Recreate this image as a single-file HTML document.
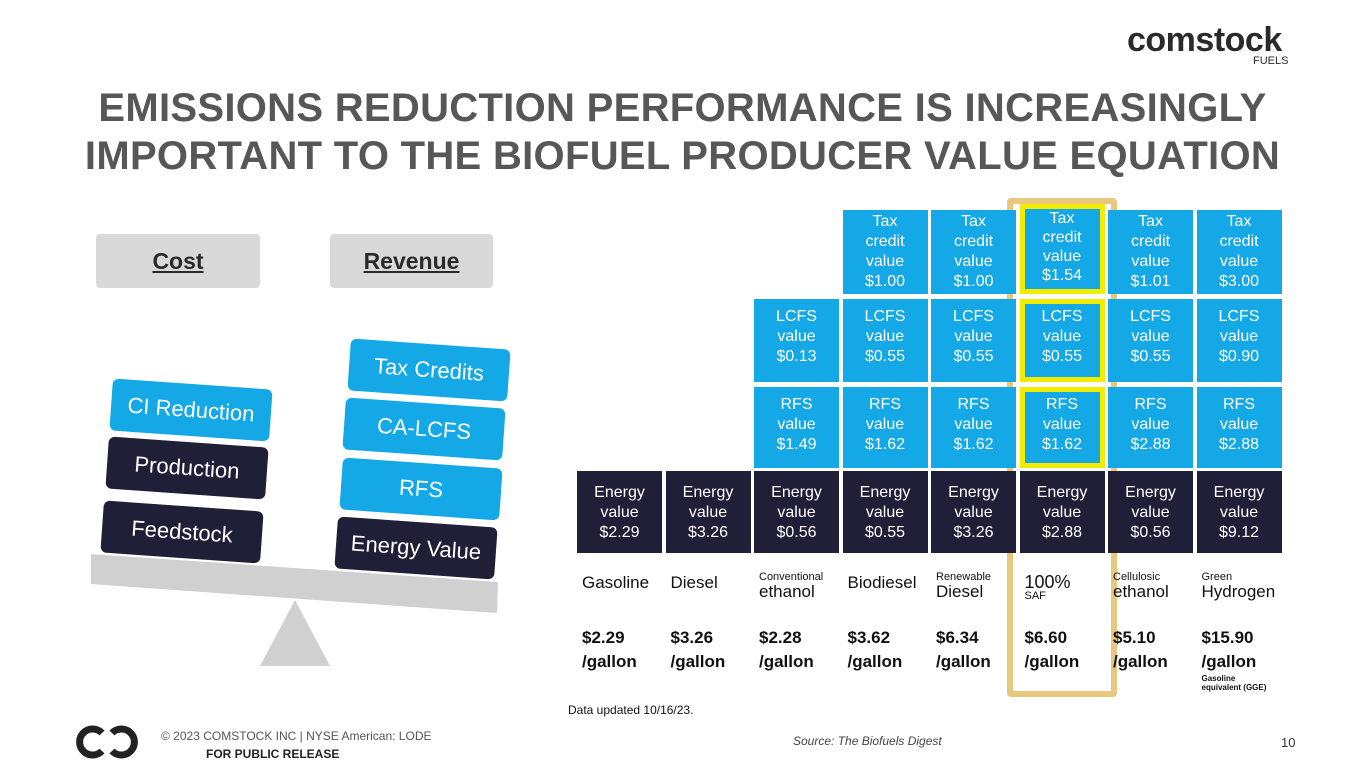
<!DOCTYPE html>
<html><head><meta charset="utf-8"><style>
body{margin:0;width:1365px;height:768px;overflow:hidden;background:#fff;font-family:"Liberation Sans",sans-serif;position:relative}
.abs{position:absolute}
.title{left:0;width:1365px;top:84px;text-align:center;color:#575757;font-weight:bold;font-size:40px;line-height:48px;letter-spacing:0.3px}
.btn{top:234px;height:54px;background:#d9d9d9;border-radius:4px;color:#2a2a2a;font-weight:bold;font-size:23px;text-align:center;line-height:54px;text-decoration:underline}
.blk{width:160px;height:52px;border-radius:6px;color:#fff;font-size:22px;text-align:center;line-height:52px;transform:rotate(4deg)}
.cell{position:absolute;color:#fff;font-size:16px;line-height:20px;text-align:center;box-sizing:border-box;padding-top:2px}
.lab{position:absolute;font-family:"Liberation Sans",sans-serif;color:#111}
</style></head><body>
<div class="abs" style="left:1127px;top:22px;font-size:34px;font-weight:bold;color:#2a2a2a;letter-spacing:-0.5px;line-height:36px">comstock</div>
<div class="abs" style="left:1253px;top:55px;font-size:11px;color:#2a2a2a">FUELS</div>
<div class="abs title">EMISSIONS REDUCTION PERFORMANCE IS INCREASINGLY<br>IMPORTANT TO THE BIOFUEL PRODUCER VALUE EQUATION</div>
<div class="abs btn" style="left:96px;width:164px">Cost</div>
<div class="abs btn" style="left:330px;width:163px">Revenue</div>
<svg class="abs" style="left:0;top:0" width="1365" height="768">
<polygon points="91,554 498,582 497,613 91,584" fill="#d0d0d0"/>
<polygon points="295,600 330,666 260,666" fill="#d0d0d0"/>
</svg>
<div class="abs blk" style="left:102px;top:506px;background:#201f38">Feedstock</div>
<div class="abs blk" style="left:107px;top:442px;background:#201f38">Production</div>
<div class="abs blk" style="left:111px;top:384px;background:#14a9e6">CI Reduction</div>
<div class="abs blk" style="left:336px;top:522px;background:#201f38">Energy Value</div>
<div class="abs blk" style="left:341px;top:463px;background:#14a9e6">RFS</div>
<div class="abs blk" style="left:344px;top:403px;background:#14a9e6">CA-LCFS</div>
<div class="abs blk" style="left:349px;top:344px;background:#14a9e6">Tax Credits</div>

<div class="abs" style="left:1007px;top:198px;width:98px;height:487px;border:6px solid #e8c77e;border-radius:4px"></div>
<div id="chart"></div>
<div class="lab" style="left:568px;top:703px;font-size:12px">Data updated 10/16/23.</div>
<div class="abs" style="left:793px;top:734px;font-size:12px;font-style:italic;color:#444">Source: The Biofuels Digest</div>
<div class="abs" style="left:1281px;top:735px;font-size:13px;color:#333">10</div>
<svg class="abs" style="left:74px;top:725px" width="66" height="34">
<path d="M28 8 A13 13 0 1 0 28 26" fill="none" stroke="#222" stroke-width="7"/>
<path d="M38 8 A13 13 0 1 1 38 26" fill="none" stroke="#222" stroke-width="7"/>
</svg>
<div class="abs" style="left:161px;top:729px;font-size:12px;color:#555">© 2023 COMSTOCK INC | NYSE American: LODE</div>
<div class="abs" style="left:206px;top:747px;font-size:12px;font-weight:bold;color:#222">FOR PUBLIC RELEASE</div>
<script>
const fuels=["Gasoline","Diesel","Conventional ethanol","Biodiesel","Renewable Diesel","100% SAF","Cellulosic ethanol","Green Hydrogen"];
const energy=[2.29,3.26,0.56,0.55,3.26,2.88,0.56,9.12];
const rfs=[null,null,1.49,1.62,1.62,1.62,2.88,2.88];
const lcfs=[null,null,0.13,0.55,0.55,0.55,0.55,0.90];
const tax=[null,null,null,1.00,1.00,1.54,1.01,3.00];
const prices=["$2.29","$3.26","$2.28","$3.62","$6.34","$6.60","$5.10","$15.90"];
const chart=document.getElementById('chart');
const x0=577,step=88.5,w=85;
function colX(i){return x0+i*step;}
const rows=[{d:tax,l:"Tax<br>credit<br>value",y:210,h:84,c:"#14a9e6",n:"tax-credit-cell"},
{d:lcfs,l:"LCFS<br>value",y:299,h:83,c:"#14a9e6",n:"lcfs-cell"},
{d:rfs,l:"RFS<br>value",y:387,h:81,c:"#14a9e6",n:"rfs-cell"},
{d:energy,l:"Energy<br>value",y:471,h:82,c:"#201f38",n:"energy-cell"}];
rows.forEach(r=>{r.d.forEach((v,i)=>{if(v===null)return;
const el=document.createElement('div');el.className='cell';


let pt=r.n==="tax-credit-cell"?2:(r.n==="energy-cell"?12:8);
el.style.cssText=`left:${colX(i)}px;top:${r.y}px;width:${w}px;height:${r.h}px;background:${r.c};padding-top:${pt}px`;
if(i===5&&r.n!=="energy-cell"){el.style.border="5px solid #f2ec00";
if(r.n==="tax-credit-cell"){el.style.paddingTop="0px";el.style.lineHeight="19px";el.style.top=(r.y-6)+"px";el.style.height=(r.h+6)+"px";}
else el.style.paddingTop=(pt-5)+"px";}
el.innerHTML=r.l+"<br>$"+v.toFixed(2);chart.appendChild(el);});});
fuels.forEach((f,i)=>{const el=document.createElement('div');el.className='lab';


const x=colX(i)+5;
const parts=f.split(' ');
if(i===2||i===4||i===6||i===7){el.innerHTML=`<div style="font-size:11px;line-height:12px">${parts[0]}</div><div style="font-size:17px;line-height:18px">${parts.slice(1).join(' ')}</div>`;el.style.top='571px';}
else if(i===5){el.innerHTML=`<div style="font-size:18px;line-height:18px">100%</div><div style="font-size:11px;line-height:11px">SAF</div>`;el.style.top='573px';}
else{el.innerHTML=`<div style="font-size:17px">${f}</div>`;el.style.top='573px';}
el.style.left=x+'px';chart.appendChild(el);
const p=document.createElement('div');p.className='lab';


p.style.cssText=`left:${colX(i)+5}px;top:626px;font-size:17px;font-weight:bold;line-height:24px`;
p.innerHTML=prices[i]+"<br>/gallon"+(i===7?'<div style="font-size:8px;line-height:9px">Gasoline<br>equivalent (GGE)</div>':'');
chart.appendChild(p);});
</script>
</body></html>
